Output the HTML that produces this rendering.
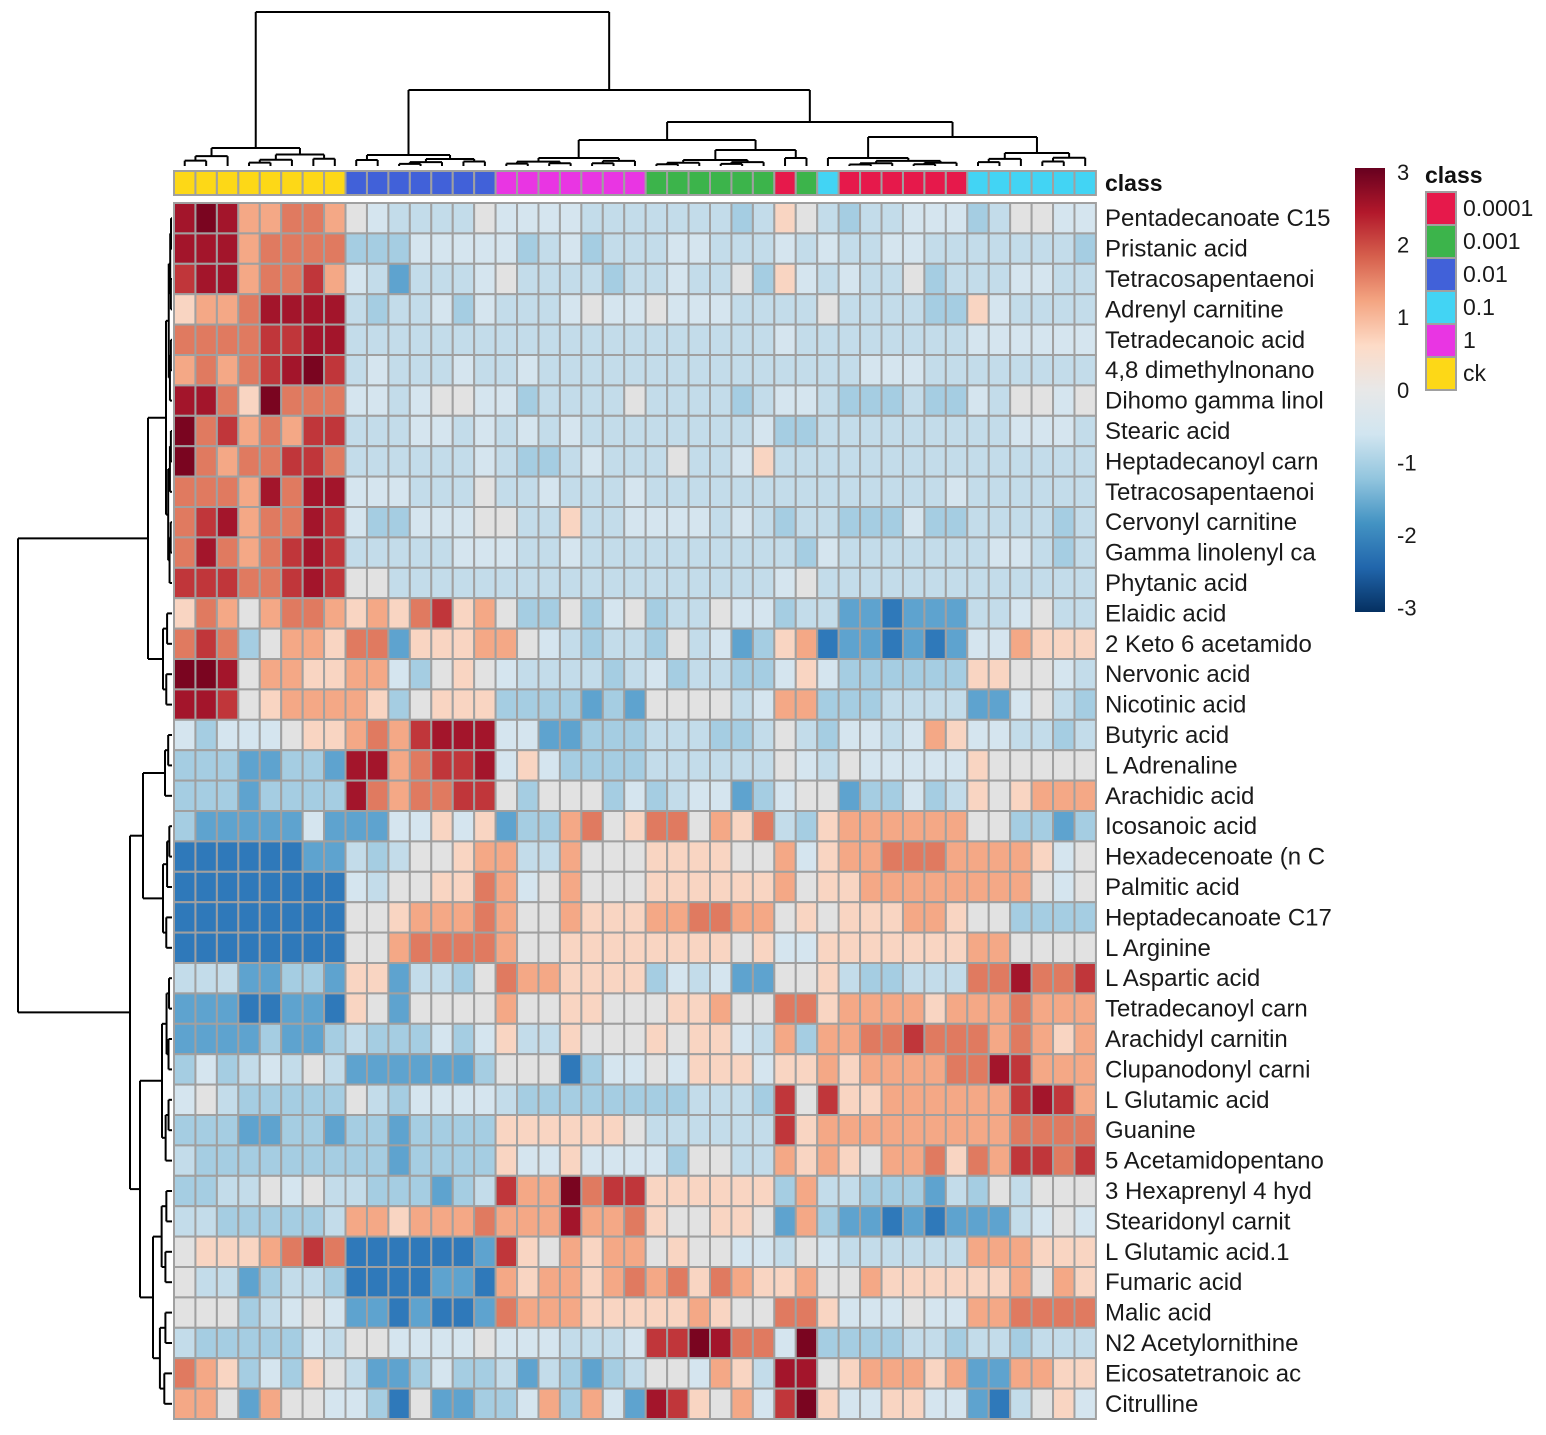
<!DOCTYPE html>
<html><head><meta charset="utf-8"><style>
html,body{margin:0;padding:0;background:#fff;}
svg{display:block;font-family:"Liberation Sans",sans-serif;}
</style></head><body>
<svg id="s" width="1546" height="1435" xmlns="http://www.w3.org/2000/svg"></svg>
<script>
var rows=[
["Pentadecanoate C15","aba77887","5433335","4444333","333323","6","5","3","233444","235544"],
["Pristanic acid","aaa78888","2224444","4234233","344333","4","3","4","334433","333332"],
["Tetracosapentaenoi","9aa78897","4313334","5333323","343352","6","4","3","433523","334433"],
["Adrenyl carnitine","6778aaaa","3233424","3334544","544433","3","3","5","333322","643333"],
["Tetradecanoic acid","888899aa","3333333","3333333","333333","4","3","3","333333","444444"],
["4,8 dimethylnonano","78789ab9","3433343","3433333","333333","3","3","3","344433","333333"],
["Dihomo gamma linol","aa86b888","4434554","4233335","333323","4","4","3","222322","435545"],
["Stearic acid","b8978799","3334434","3434333","333334","2","2","3","333333","334443"],
["Heptadecanoyl carn","b8788998","3333334","3223433","353346","3","3","3","333333","333333"],
["Tetracosapentaenoi","8887a8aa","4443335","3343334","333333","3","3","3","333334","333333"],
["Cervonyl carnitine","89a788a9","4224445","5336334","444343","2","3","3","222422","333323"],
["Gamma linolenyl ca","8a8789a9","3333344","4334333","333333","3","2","4","333333","344323"],
["Phytanic acid","999889a9","5533333","3333333","333333","4","5","3","333333","333333"],
["Elaidic acid","68757887","6768967","5225245","233544","2","3","3","110111","334533"],
["2 Keto 6 acetamido","89825776","8816667","7543233","253412","6","7","0","110101","447666"],
["Nervonic acid","bba57766","7742565","4333323","423322","4","6","4","222222","665543"],
["Nicotinic acid","aa956777","7625666","2222121","555534","7","7","2","223333","114532"],
["Butyric acid","42444566","7879aaa","4411222","333223","5","3","2","443476","443323"],
["L Adrenaline","22211221","aa7899a","4642222","333333","5","4","3","544444","655555"],
["Arachidic acid","22212222","a878899","5255524","234412","4","5","5","122423","656777"],
["Icosanoic acid","21111141","1144646","1227856","885768","3","2","6","777777","552212"],
["Hexadecenoate (n C","00000011","3235567","7337555","666655","7","4","6","778887","777645"],
["Palmitic acid","00000000","4355668","7457555","666666","7","5","6","677777","777545"],
["Heptadecanoate C17","00000000","5567778","7557666","778877","5","6","5","666776","552222"],
["L Arginine","00000000","5578888","7556666","666656","4","4","6","666666","775555"],
["L Aspartic acid","33311221","6613325","8776666","243411","5","5","6","322333","88a889"],
["Tetradecanoyl carn","11100110","6515555","7556655","566755","8","8","6","777767","778777"],
["Arachidyl carnitin","11112112","3222424","6336555","656643","7","2","7","788988","878767"],
["Clupanodonyl carni","24234353","1111112","5550244","546664","6","6","7","677778","8a9777"],
["L Glutamic acid","45322222","5324444","3222222","223332","9","5","9","667777","779a97"],
["Guanine","22211221","2212222","6666665","333333","9","6","7","777777","778888"],
["5 Acetamidopentano","32222222","2212222","6446444","425533","7","6","7","657786","879989"],
["3 Hexaprenyl 4 hyd","22335453","3222123","977b899","666666","2","7","3","322213","253555"],
["Stearidonyl carnit","33222223","7767778","777a778","655665","1","7","2","110101","113454"],
["L Glutamic acid.1","56667898","0000001","9657677","565544","3","5","4","333333","777666"],
["Fumaric acid","53312332","0000110","7677678","786876","6","7","5","576666","667576"],
["Malic acid","55523454","1101001","8777666","667655","8","8","6","444544","778888"],
["N2 Acetylornithine","32222243","5544445","4443334","99ba88","4","b","2","222332","332333"],
["Eicosatetranoic ac","87624265","3112422","3132123","554763","a","a","5","677767","117766"],
["Citrulline","77517554","4205112","2472741","a96574","9","b","6","446644","103564"]
];
var pal={"0":"#2f79ba","1":"#5ea3cf","2":"#a5cde2","3":"#c3dcea","4":"#d5e5ef","5":"#e2e2e2","6":"#f9d5c2","7":"#f4a886","8":"#e07a60","9":"#c0363a","a":"#a3152b","b":"#7a0520"};
var S=document.getElementById("s"),NS="http://www.w3.org/2000/svg";
function el(t,a,txt){var e=document.createElementNS(NS,t);for(var k in a)e.setAttribute(k,a[k]);if(txt!==undefined)e.textContent=txt;S.appendChild(e);return e;}
var X0=174,CW=21.44,Y0=203,RH=30.4;
var ann=[];function pushN(c,n){for(var i=0;i<n;i++)ann.push(c);}
var YEL="#fdd817",BLU="#4161d9",MAG="#e935e3",GRN="#3cb44b",RED="#e6194b",CYA="#42d4f4";
pushN(YEL,8);pushN(BLU,7);pushN(MAG,7);pushN(GRN,6);pushN(RED,1);pushN(GRN,1);pushN(CYA,1);pushN(RED,6);pushN(CYA,6);
for(var c=0;c<43;c++)el("rect",{x:X0+c*CW,y:171,width:CW,height:24,fill:ann[c],stroke:"#a0a0a0","stroke-width":2});
el("text",{x:1105,y:191,"font-size":23,"font-weight":"bold",fill:"#111"},"class");
for(var r=0;r<40;r++){
  var row=rows[r],s=row.slice(1).join("").replace(/ /g,"");
  for(var c=0;c<43;c++){var ch=s[c]||"3";el("rect",{x:X0+c*CW,y:Y0+r*RH,width:CW,height:RH,fill:pal[ch],stroke:"#a0a0a0","stroke-width":2});}
  el("text",{x:1105,y:Y0+r*RH+RH/2+8,"font-size":24,fill:"#1a1a1a"},row[0]);
}
function line(x1,y1,x2,y2){el("line",{x1:x1,y1:y1,x2:x2,y2:y2,stroke:"#000","stroke-width":2});}
function combT(a,b,h,leaf,m){
  if(a==b)return {p:X0+CW*(a+0.5),h:leaf};
  if(m===undefined)m=Math.floor((a+b)/2);var step=(leaf-h)/2.2;
  var L=combT(a,m,h+step,leaf),R=combT(m+1,b,h+step*0.8,leaf);
  return joinT(L,R,h);
}
function joinT(L,R,h){line(L.p,L.h,L.p,h);line(R.p,R.h,R.p,h);line(L.p,h,R.p,h);return {p:(L.p+R.p)/2,h:h};}
var leafT=166;
var Yc=combT(0,7,148,leafT,2),Bc=combT(8,14,155,leafT,9),Mc=combT(15,21,158,leafT),Gc=combT(22,27,160,leafT),RGc=combT(28,29,158,leafT),RCc=combT(30,36,158,leafT,30),Cc=combT(37,42,153,leafT);
var GRG=joinT(Gc,RGc,150),MG=joinT(Mc,GRG,140),RC=joinT(RCc,Cc,137),W=joinT(MG,RC,122),X=joinT(Bc,W,90);joinT(Yc,X,12);
function combL(a,b,h,leaf,m){
  if(a==b)return {p:Y0+RH*(a+0.5),h:leaf};
  if(m===undefined)m=Math.floor((a+b)/2);var step=(leaf-h)/2.2;
  var L=combL(a,m,h+step,leaf),R=combL(m+1,b,h+step*0.8,leaf);
  return joinL(L,R,h);
}
function joinL(L,R,h){line(L.h,L.p,h,L.p);line(R.h,R.p,h,R.p);line(h,L.p,h,R.p);return {p:(L.p+R.p)/2,h:h};}
var leafL=172;
var A=combL(0,12,166,leafL),B=combL(13,16,163,leafL),C=combL(17,19,165,leafL),D=combL(20,24,163,leafL),E=combL(25,31,162,leafL),F=combL(32,39,153,leafL);
var AB=joinL(A,B,148),CD=joinL(C,D,143),EF=joinL(E,F,140),CF=joinL(CD,EF,130);joinL(AB,CF,18);
var defs=el("defs",{});var g=document.createElementNS(NS,"linearGradient");g.setAttribute("id","gr");g.setAttribute("x1","0");g.setAttribute("y1","0");g.setAttribute("x2","0");g.setAttribute("y2","1");defs.appendChild(g);
var st=["#67001f","#b2182b","#d6604d","#f4a582","#fddbc7","#e8e8e8","#d1e5f0","#92c5de","#4393c3","#2166ac","#053061"];
st.forEach(function(c,i){var o=document.createElementNS(NS,"stop");o.setAttribute("offset",(i/10));o.setAttribute("stop-color",c);g.appendChild(o);});
el("rect",{x:1355,y:168,width:30,height:444,fill:"url(#gr)"});
["3","2","1","0","-1","-2","-3"].forEach(function(t,i){el("text",{x:1397,y:180+i*72.6,"font-size":22,fill:"#1a1a1a"},t);});
el("text",{x:1425,y:183,"font-size":23,"font-weight":"bold",fill:"#111"},"class");
[["0.0001",RED],["0.001",GRN],["0.01",BLU],["0.1",CYA],["1",MAG],["ck",YEL]].forEach(function(d,i){
  el("rect",{x:1426,y:192+i*33,width:30,height:33,fill:d[1],stroke:"#a0a0a0","stroke-width":2});
  el("text",{x:1463,y:216+i*33,"font-size":23,fill:"#1a1a1a"},d[0]);
});
</script>
</body></html>
